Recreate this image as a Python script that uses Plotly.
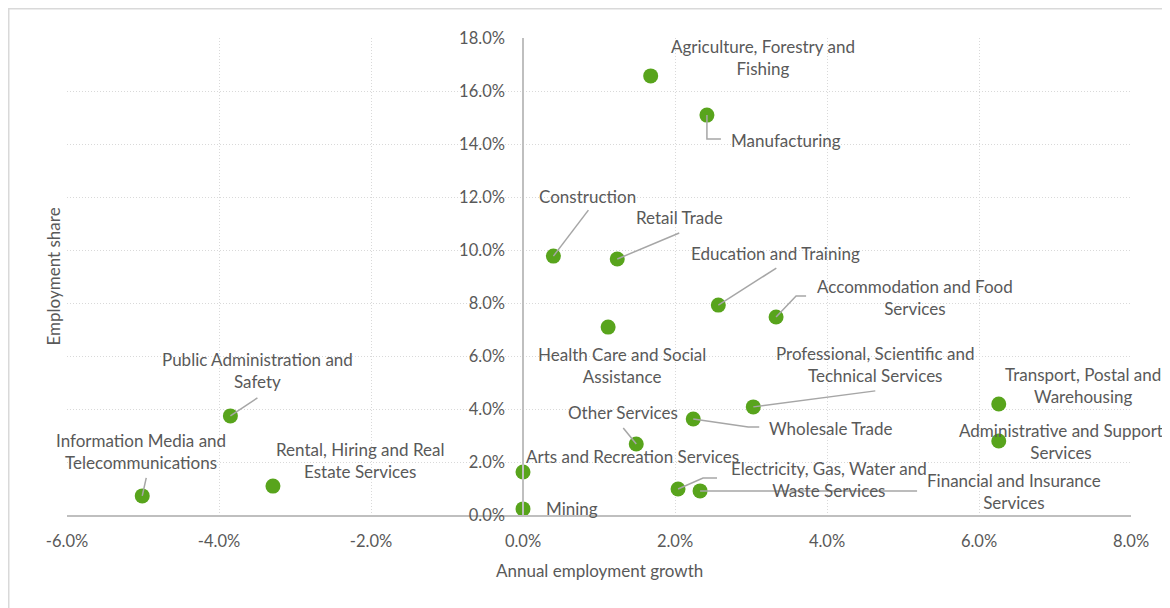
import plotly.graph_objects as go

# industry data: annual employment growth (%) vs employment share (%)
sectors = [
    "Agriculture, Forestry and<br>Fishing",
    "Manufacturing",
    "Construction",
    "Retail Trade",
    "Education and Training",
    "Accommodation and Food<br>Services",
    "Health Care and Social<br>Assistance",
    "Professional, Scientific and<br>Technical Services",
    "Transport, Postal and<br>Warehousing",
    "Wholesale Trade",
    "Administrative and Support<br>Services",
    "Other Services",
    "Arts and Recreation Services",
    "Electricity, Gas, Water and<br>Waste Services",
    "Financial and Insurance<br>Services",
    "Mining",
    "Public Administration and<br>Safety",
    "Rental, Hiring and Real<br>Estate Services",
    "Information Media and<br>Telecommunications",
]
growth = [1.68, 2.42, 0.40, 1.24, 2.57, 3.33, 1.12, 3.03, 6.26, 2.24,
          6.26, 1.49, 0.00, 2.04, 2.33, 0.00, -3.85, -3.29, -5.01]
share = [16.57, 15.09, 9.77, 9.66, 7.92, 7.47, 7.09, 4.08, 4.19, 3.62,
         2.79, 2.68, 1.62, 0.98, 0.91, 0.23, 3.74, 1.09, 0.72]

# label placement: pixel offsets of the label centre from its point
label_dx = [112, 79, 34, 62, 57, 139, 14, 122, 84, 137, 62, -13, 109, 151, 314, 49, 27, 87, -1]
label_dy = [-18, 25, -60, -42, -52, -20, 38, -42, -18, 9, 0, -31, -16, -10, 1, 0, -45, -26, -44]
# leader line vertices, pixel offsets from the point (y down), None = no leader
leaders = [
    None,
    [(0, 0), (0, 24), (14, 24)],
    [(0, 0), (35, -46)],
    [(0, 0), (62, -26)],
    [(0, 0), (58, -37)],
    [(0, 0), (20, -21), (30, -21)],
    None,
    [(0, 0), (122, -16)],
    None,
    [(0, 0), (55, 8), (66, 8)],
    None,
    [(0, 0), (-13, -16)],
    None,
    [(0, 0), (25, -11), (39, -11)],
    [(0, 0), (217, 0)],
    None,
    [(0, 0), (27, -18)],
    None,
    [(0, 0), (4, -18)],
]

x_ticks = [-6, -4, -2, 0, 2, 4, 6, 8]
y_ticks = [0, 2, 4, 6, 8, 10, 12, 14, 16, 18]
x_range = [-6, 8]
y_range = [0, 18]

FONT = "Lato, 'Open Sans', sans-serif"
TXT = "#595959"
GREEN = "#58A41C"
L, R, T, B = 59, 39, 30, 93
W, H = 1162, 600
pw, ph = W - L - R, H - T - B
sx = pw / (x_range[1] - x_range[0])   # pixels per x unit
sy_ = ph / (y_range[1] - y_range[0])  # pixels per y unit

fig = go.Figure(go.Scatter(
    x=growth, y=share, mode="markers",
    marker=dict(size=15, color=GREEN),
    hoverinfo="skip", showlegend=False,
))

annotations = []
shapes = [dict(type="rect", xref="paper", yref="paper",
               x0=-L / pw, x1=1.2, y0=-0.5, y1=1 + T / ph,
               line=dict(color="#D9D9D9", width=3), layer="below")]

for name, gx, gy, dx, dy, ld in zip(sectors, growth, share, label_dx, label_dy, leaders):
    annotations.append(dict(
        x=gx, y=gy, text=name, showarrow=False, xshift=dx, yshift=-dy,
        font=dict(family=FONT, size=17, color=TXT), align="center",
    ))
    if ld:
        pts = [(gx + px / sx, gy - py / sy_) for px, py in ld]
        path = "M " + " L ".join(f"{a},{b}" for a, b in pts)
        shapes.append(dict(type="path", xref="x", yref="y", path=path,
                           line=dict(color="#A6A6A6", width=1.5), layer="above"))

annotations.append(dict(
    text="Annual employment growth", xref="paper", yref="paper", x=0.5, y=0,
    yshift=-55, xanchor="center", yanchor="middle", showarrow=False,
    font=dict(family=FONT, size=17, color=TXT),
))
annotations.append(dict(
    text="Employment share", xref="paper", yref="paper", x=0, y=0.5,
    xshift=-14, xanchor="center", yanchor="middle", textangle=-90, showarrow=False,
    font=dict(family=FONT, size=17, color=TXT),
))

fig.update_layout(
    width=W, height=H,
    margin=dict(l=L, r=R, t=T, b=B),
    paper_bgcolor="white", plot_bgcolor="white",
    font=dict(family=FONT, color=TXT, size=16.5),
    annotations=annotations,
    shapes=shapes,
    xaxis=dict(
        range=x_range, tickvals=x_ticks,
        ticktext=[f"{v:.1f}%" for v in x_ticks],
        showgrid=True, gridcolor="#D9D9D9", griddash="1px,2px", gridwidth=1,
        zeroline=False, showline=True, linecolor="#BFBFBF", linewidth=1.5,
        ticks="", ticklabelstandoff=10,
        tickfont=dict(family=FONT, size=16.5, color=TXT),
    ),
    yaxis=dict(
        range=y_range, tickvals=y_ticks,
        ticktext=[f"{v:.1f}%" for v in y_ticks],
        showgrid=True, gridcolor="#D9D9D9", griddash="1px,2px", gridwidth=1,
        zeroline=False, showline=True, linecolor="#BFBFBF", linewidth=1.5,
        anchor="free", position=6 / 14,
        ticks="", ticklabelstandoff=14,
        tickfont=dict(family=FONT, size=16.5, color=TXT),
    ),
)

fig.write_html("out.html")
